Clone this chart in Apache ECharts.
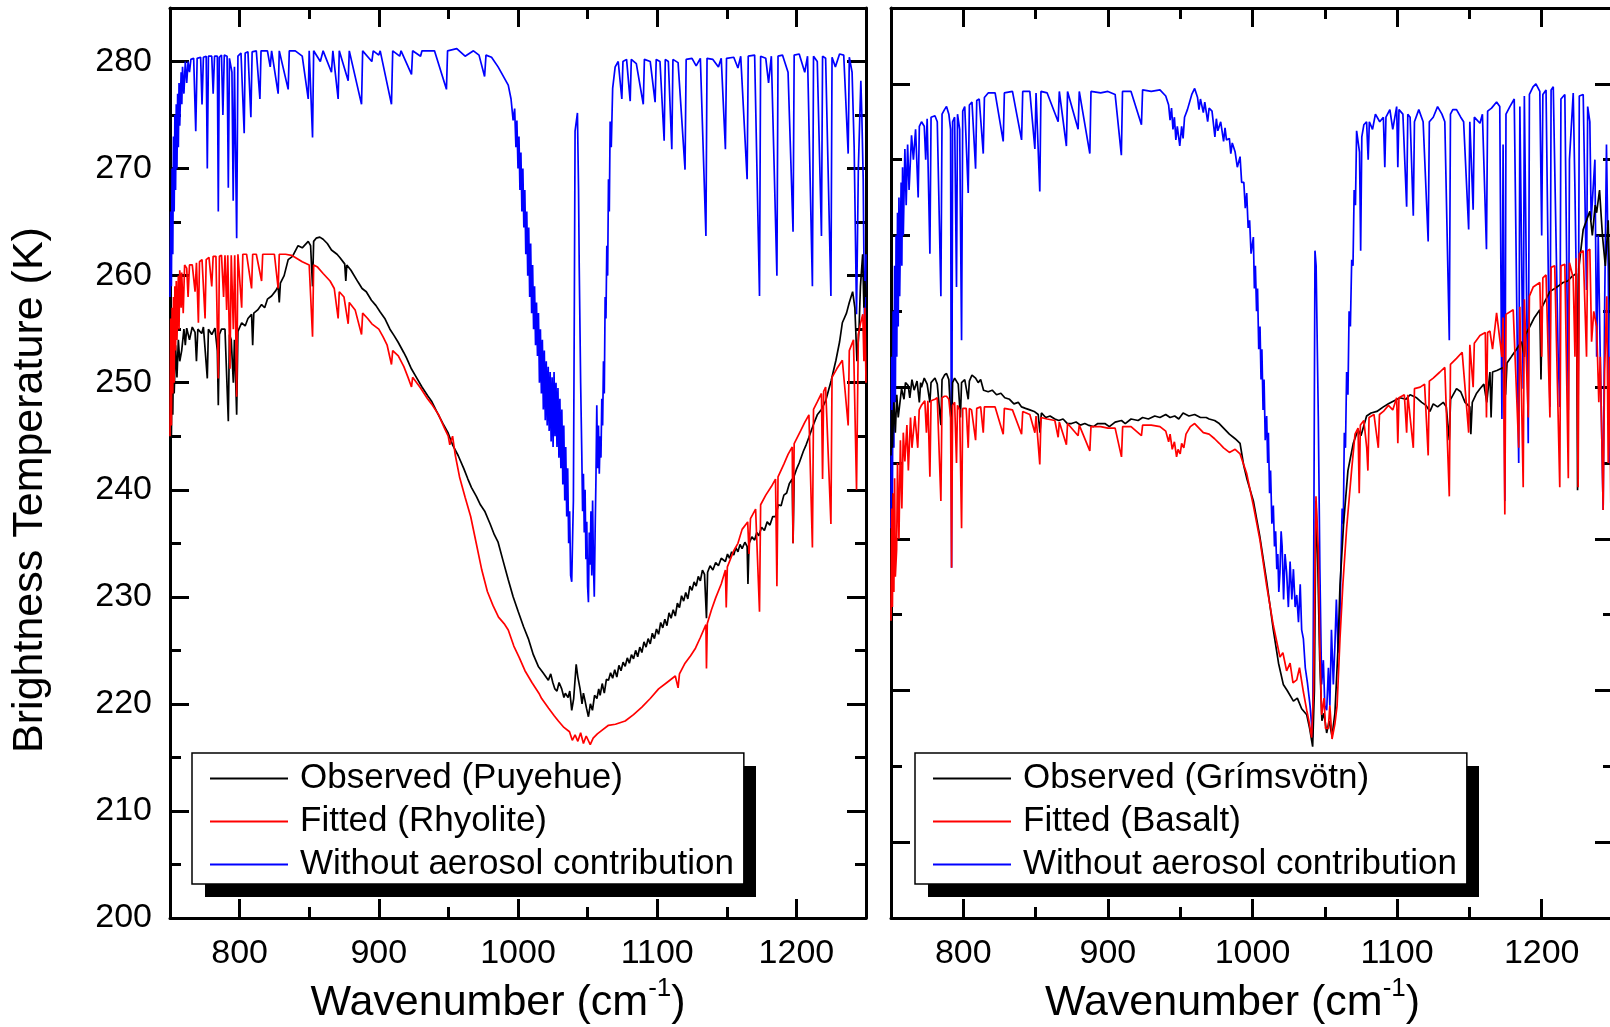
<!DOCTYPE html>
<html><head><meta charset="utf-8">
<script src="https://cdn.jsdelivr.net/npm/echarts@6/dist/echarts.min.js"></script>
<style>html,body{margin:0;padding:0;overflow:hidden;background:#fff}#c{width:1630px;height:1027px}</style>
</head><body><div id="c"></div><script>
// ---------- data (wavenumber cm-1, brightness temperature K) ----------
const LEFT_NAMES = ['Observed (Puyehue)', 'Fitted (Rhyolite)', 'Without aerosol contribution'];
const RIGHT_NAMES = ['Observed (Grímsvötn)', 'Fitted (Basalt)', 'Without aerosol contribution'];
const X_LABELS = [800, 900, 1000, 1100, 1200];
const X_MINOR = [850, 950, 1050, 1150];
const Y_LEFT_LABELS = [200, 210, 220, 230, 240, 250, 260, 270, 280];
const Y_LEFT_MINOR = [205, 215, 225, 235, 245, 255, 265, 275];
const Y_RIGHT_MAJOR = [230, 240, 250, 260, 270, 280];
const Y_RIGHT_MINOR = [235, 245, 255, 265, 275];

const leftClear = [[750,258],[750.5,266],[751,259],[751.5,270],[752,262],[752.5,273],[753,266],[753.5,275],[754,268],[754.5,276],[755,270],[755.5,277],[756,272],[756.5,278],[757,274],[758,279],[758.5,276],[759,279.5],[760,277],[761,280],[762,278],[763,280],[764,279],[765,280.2],
[767,280.3],[768.5,273.5],[769.5,280.3],[772,280.4],[773,276],[774,280.4],[776,280.5],[776.8,270],[777.6,280.5],[780,280.5],[781,277],[782,280.5],[784,280.5],[784.7,266],[785.4,280.4],[787,280.6],[788,275],[789,280.6],[791,280.5],[791.9,268.2],[792.7,280.3],[794.5,279],[795.4,267],[796.3,279.5],[797.9,263.5],[798.8,280.5],[801,280.8],[803.3,273.3],[804,280.8],[806,280.9],[808.1,274.8],[809,280.9],[812,281],[814.6,276.5],[815.4,281],[820,281],[822,279.5],[823,281],[827.7,277],[828.5,281],[834.9,277.4],[835.7,281],[840,281],[845,280.5],[849.3,276.5],[850,281],[852.4,272.9],[853.2,281],[858,280],[860,281],[866,279],[867,281],[870.8,276.5],[871.6,281],[878,278.2],[878.8,281],[887.6,276],[888.4,281],[895,280],[896,281],[900,280.6],[901,281],[909.1,276],[910,281],[915,280.5],[916,281],[923.5,278.8],[924.3,281],[930,280.5],[931,281],[940,281],[948.6,277.4],[949.4,281],[956,281.2],[962,280.5],[968,281],[972,280.6],[976,278.6],[977,280.6],[981,280.4],[985.7,279.5],[990,278.5],[993,277.8],[995,276.5],[996.5,274.5],[997.6,275.6],[998.5,272],[999.2,274.5],[1000,270],[1000.7,273],[1001.4,268],[1002.1,271.5],[1002.8,266],[1003.5,270],[1004.2,264.5],[1004.9,268],[1005.6,262],[1006.3,266],[1007,260],[1007.7,264.5],[1008.4,258],[1009.1,263],[1009.8,256.5],[1010.5,261],[1011.2,255],[1011.9,259],[1012.6,253.5],[1013.3,257.5],[1014,252.5],[1014.7,256.5],[1015.4,250],[1016.1,255],[1016.8,249],[1017.5,254],[1018.2,247.5],[1018.9,253],[1019.6,246.5],[1020.3,252],[1021,246],[1021.7,251.5],[1022.4,245.5],[1023.1,251],[1023.8,244.5],[1024.5,250.5],[1025.2,244],[1025.9,251],[1026.6,245],[1027.3,250],[1028,244],[1028.7,249.5],[1029.4,243],[1030.1,248.5],[1030.8,242],[1031.5,247.5],[1032.2,240.5],[1032.9,246],[1033.6,239],[1034.3,244],[1035,237.5],[1035.7,242],[1036.4,235],[1037.1,238],[1037.8,232],[1038.6,231.4],[1039.3,236],[1039.8,239],[1040.5,258],[1041,273.5],[1042.7,275.2],[1043.5,268],[1044,260.7],[1045,250],[1045.8,243.6],[1046.4,238],[1047,241.5],[1047.6,236],[1048.2,240],[1048.8,233.5],[1049.4,237],[1050,231],[1050.6,229.5],[1051.2,236],[1051.8,233],[1052.4,238],[1053,232],[1053.6,239],[1054.2,233],[1054.8,230],[1055.4,236],[1056,241],[1056.6,247.9],[1057.2,242],[1057.8,246],[1058.4,241.5],[1059,245],[1059.6,243],[1060.2,248.5],[1060.8,246],[1061.4,252],[1062,249],[1062.6,258],[1063.2,256],[1063.8,262.8],[1064.4,260],[1065,269],[1065.6,266],[1066.2,274.4],[1067,272],[1068,277.5],[1069.8,279.5],[1072,280],[1074.6,276.5],[1075.4,280],[1078,280.2],[1080.6,276.3],[1081.4,280.2],[1085,279.8],[1090,276],[1090.8,280.2],[1095,280],[1098.5,276.2],[1099.3,280.2],[1102,280],[1105,272.6],[1105.8,280.2],[1108,280],[1110.5,271.8],[1111.3,280.2],[1115,279.9],[1120,269.9],[1120.8,280.2],[1125,280.3],[1128,279.6],[1131,280.3],[1135,263.7],[1135.8,280.3],[1140,280.2],[1144,279.5],[1146,280.3],[1149,271.8],[1149.8,280.3],[1155,280.4],[1158,279.4],[1160,280.5],[1164.6,269],[1165.4,280.5],[1170,280.6],[1173.5,258.1],[1174.3,280.5],[1178,280.3],[1180,278],[1182,280.5],[1186,260],[1186.8,280.5],[1190,280.6],[1194,279],[1197.6,264.1],[1198.4,280.6],[1202,280.7],[1206,279],[1208,280.5],[1211.5,259],[1212.3,280.5],[1215,280],[1218,263.7],[1218.8,280.5],[1221,280.3],[1224.8,258.1],[1225.6,280.4],[1228,279.5],[1231,280.7],[1234,280.6],[1237.2,271.4],[1238,280.4],[1240,279],[1241.5,272],[1243.2,256.4],[1244.5,270],[1246.3,278.2],[1247,275],[1248,269],[1249,254],[1250,262]];

const leftFitted = [[750,245],[750.5,256],[751,246],[751.5,257],[752,249],[752.5,258],[753,250],[753.5,259],[754,253],[754.5,259.5],[755,254],[756,260],[756.5,255],[757,260.5],[758,257],[758.4,260.3],[759.5,256.5],[760.5,261],[762,260.7],[763,258],[764,261],[766,261],[768,258.5],[769,261.2],[770.4,255.6],[771.2,261.3],[773,261.5],[775.2,256],[776,261.5],[778,261.7],[780,259],[781,261.8],[783,261.8],[784.7,250.4],[785.5,261.8],[787,261.9],[788.5,258],[789.5,261.9],[790.7,256.8],[791.5,261.9],[793.1,251.3],[794,261.9],[795.5,255],[796.5,261.9],[797.9,248.7],[798.8,262],[801.5,257],[802.3,262],[805,262],[808.6,258.8],[809.4,262],[812,262],[815.8,259.5],[816.6,262],[820,262],[825,262],[827.7,258.8],[828.5,262],[833,262],[837.3,261.9],[840,261.7],[845,261.3],[850,261],[852.4,254.3],[853.2,261],[856,260.8],[860,260.2],[865,259.5],[868,258.8],[870.8,256],[871.6,258.5],[875,258],[878,255.5],[878.8,257.5],[883,256.8],[887.6,254.5],[888.4,256.5],[892,256],[895,255.5],[900,255],[903,254.3],[906,253.5],[909.1,251.7],[910,253],[914,252.5],[918,251.5],[921,250.5],[923.5,249.6],[924.3,250.5],[930,249.5],[935,248.5],[938,248],[943,247],[947,245.8],[949.9,245],[951,244.2],[953,245],[955,243.2],[958,241.2],[962,239.3],[966,237.5],[970,235],[974,232.5],[978,230.5],[982,229.2],[986,228.1],[990,227.5],[993,226.9],[997,225.4],[1001,224.3],[1005,223.1],[1010,222],[1015,221],[1017,220.5],[1022,219.6],[1026,218.9],[1029,218.4],[1033,217.8],[1037,217.4],[1039,216.6],[1041,217.1],[1043,216.5],[1045,217.3],[1047,216.3],[1049,217],[1051.9,216.2],[1054,216.8],[1057,217.2],[1060,217.5],[1065,218],[1070,218.1],[1077,218.4],[1083,219],[1089,219.7],[1095,220.5],[1101,221.4],[1107,222],[1110,222.3],[1113,222.6],[1115,221.5],[1116,222.8],[1120,223.8],[1124,224.5],[1127.5,225.2],[1131,226.2],[1135,227.4],[1135.4,223.3],[1136,227.5],[1139,228.8],[1142,229.9],[1146,231.2],[1149,232.5],[1149.6,229],[1150.4,232.8],[1155,234.3],[1158,235],[1161,236.3],[1165,237],[1166,234],[1167,237.3],[1170.7,238.2],[1173.5,228.6],[1174.3,238.6],[1178,239.5],[1182,240.3],[1185,241],[1186,231],[1186.8,241.2],[1191,242.4],[1194,243.3],[1197,244],[1197.6,235],[1198.4,244.3],[1203,245.5],[1206,246.3],[1209,247],[1211.5,234.6],[1212.3,247.5],[1215,248.2],[1218,249],[1218.8,241],[1219.6,249.2],[1221,249.6],[1224.8,236.8],[1225.6,250.5],[1229,251.3],[1233,252.1],[1237.2,246],[1238,253],[1241,254],[1243.2,240],[1244.5,254.5],[1246,255.5],[1247.7,256.4],[1248.5,252],[1249.2,257],[1250,250]];

const leftObserved = [[750,243.6],[750.5,250],[751,245],[751.5,252],[752,247],[752.5,253],[753,249],[754,253.5],[755,250.5],[756,254],[757,252],[758.4,253],[760,255],[761,253.5],[762,255.1],[764,254],[766,255.2],[768,254.7],[769,252],[770,255],[772.8,254.6],[774,255.2],[776.8,250.4],[777.6,255],[780,254.5],[782.3,255.1],[784,253],[784.7,247.9],[785.5,254.5],[787,255],[789.5,255],[791.9,246.4],[792.7,254.5],[794,254],[795.5,250],[796.3,254],[797.9,247],[798.8,254.8],[801.5,255.6],[804,255.3],[806,256],[808.6,256.4],[809.4,253.5],[810.2,256.5],[813,256.8],[815.8,257.3],[818,257],[820,257.8],[823,258.1],[826,258.6],[827.7,259],[828.5,257.5],[829.3,259.3],[832,260],[834.9,261.5],[838,261.8],[842,262.8],[845,262.6],[849.3,263.2],[851,262.8],[852.4,259],[853.2,263.2],[855,263.5],[857.6,263.6],[860,263.4],[863,263],[866,262.4],[870,262],[872,261.7],[875.5,261.1],[876.3,259.5],[877,261],[880,260.5],[885.1,259.4],[888,258.8],[891,258.5],[894.7,257.7],[898,257.2],[901,256.6],[904.3,256],[908,255],[911,254.4],[913.8,253.8],[918,252.8],[920,252.3],[923.4,251.3],[927,250.5],[931,249.6],[935,248.8],[937.8,248.3],[942,247.2],[946,246.2],[949.8,245.3],[953,244.2],[957,243.2],[961,242],[964,241],[966.6,240.2],[970,239.4],[973,238.6],[976.1,238],[980,236.8],[983,235.8],[985.7,235.1],[989,233.5],[993,231.6],[996.5,230],[1000.2,228.6],[1004,227.2],[1007.4,226.1],[1011,224.6],[1014.6,223.5],[1018,222.9],[1021.8,222.2],[1023.5,222.8],[1025,222],[1026.5,221.4],[1028,221.2],[1029.5,222],[1031.4,221.4],[1033,220.6],[1034,221],[1036,220.6],[1037.2,221.2],[1038.6,219.4],[1040,220.5],[1041.8,223.7],[1043,222.5],[1044.6,221.4],[1046,220],[1047,221],[1048,220.4],[1049.2,219.6],[1050.6,218.8],[1052,220],[1053.5,219.4],[1055,220.8],[1056.7,220.5],[1058,221.4],[1059,220.8],[1060.5,221.9],[1062,221],[1063.5,222.3],[1065,222.2],[1066.5,222.9],[1068,222.4],[1069.5,223.2],[1071,222.5],[1072.5,223.6],[1074,223.1],[1075.5,223.9],[1077,223.5],[1078.5,224.3],[1080,223.8],[1081.5,224.6],[1083,224.2],[1084.5,225],[1086,224.4],[1087.5,225.3],[1089,224.8],[1090.5,225.8],[1092,225.3],[1093.5,226.1],[1095,225.6],[1096.5,226.6],[1098,226.1],[1099.5,227],[1101,226.5],[1102.5,227.6],[1104,227.1],[1105.5,227.9],[1107,227.3],[1108.5,228.5],[1110,228],[1111.5,228.8],[1113,228.2],[1114.5,229.4],[1116,229],[1117.5,230.1],[1119,229.6],[1120.5,230.4],[1122,229.8],[1123.5,231],[1125,230.6],[1126.5,231.4],[1128,231],[1129.5,231.9],[1131,231.5],[1132.5,232.5],[1134,232.1],[1135.4,228],[1136.2,232.3],[1138,232.9],[1140,232.5],[1142,233.2],[1144,232.9],[1146,233.6],[1149,233.3],[1150.5,234],[1152,233.6],[1153.5,234.2],[1155,233.9],[1156.5,234.6],[1158,234.2],[1159.5,234.9],[1161,234.5],[1163,235.1],[1164.6,234.7],[1165.2,231.2],[1166,235],[1168,235.6],[1170,235.3],[1171.5,236],[1173,235.7],[1175,236.5],[1177,236.2],[1179,237],[1181,236.7],[1183,237.5],[1185,237.5],[1187,238.6],[1189,238.5],[1191,239.5],[1193,239.7],[1195,240.6],[1197,241],[1197.6,235],[1198.4,241.3],[1200,241.9],[1202,242.5],[1205,243.6],[1207,244.2],[1209,244.9],[1212,246],[1215,247],[1218,247.5],[1221,248.3],[1225,250.2],[1228.4,252.1],[1231,253.8],[1233,255.6],[1236,256.5],[1238,257.5],[1240.4,258.5],[1242,257],[1243.5,252],[1245,255],[1246,259],[1247.6,262],[1248.5,257],[1249.2,259.5],[1250,258]];

const rightClear = [[750,250.7],[750.5,262],[751,253],[751.5,265],[752,256],[752.5,268],[753,259],[753.5,270],[754,262],[754.5,271.5],[755,264],[755.5,272.5],[756,266],[757,273.5],[757.5,268],[758,274.5],[758.5,270],[759.6,275.7],[760.5,272],[761.5,276],[762.5,273],[764.2,276.6],[765.5,275],[767,277],[768.8,272.5],[769.6,277.2],[771.1,277.5],[773,277.2],[774,275],[775,277.7],[776.9,268.8],[777.7,277.8],[780.4,277.9],[782,277.5],[784.5,266],[785.3,278],[787,278.3],[788.4,278.5],[790,278],[791.2,277],[791.9,248.1],[792.6,277.5],[794,277.8],[795.3,266.6],[796,278],[797.5,277],[798.8,263.1],[799.6,278.2],[801,278.5],[803.4,272.8],[804.2,278.6],[806,278.8],[808.5,274.4],[809.3,278.9],[811,279],[813.8,275.4],[814.6,279.1],[817.2,279.4],[822,279.4],[827.6,276.2],[828.4,279.4],[834,279.5],[840.3,276.3],[841.1,279.5],[846,279.5],[849.5,275.7],[850.3,279.4],[852.9,272.9],[853.7,279.5],[858,279.4],[865.6,277.5],[866.4,279.5],[871.3,275.9],[872.1,279.5],[879.4,277],[880.2,279.5],[887.5,275.4],[888.3,279.5],[895,279.4],[900,279.5],[905,279.3],[909.3,275.3],[910.1,279.5],[916,279.5],[923.2,277.3],[924,279.6],[930,279.5],[936,279.6],[940,279.2],[942,278.6],[943,277.6],[944,278.4],[945,277],[946,277.8],[947,276.3],[948,277.2],[949.7,275.9],[951,277.2],[952,276.4],[953,277.8],[955,278.3],[958,279.3],[960,279.7],[962,279.1],[963,278.3],[964,279],[966,278.1],[967,278.8],[969,277.5],[970,278.4],[972,278.2],[974,276.5],[975,277.7],[976,276.9],[978,277.5],[980,276.2],[981,277.1],[982,276.3],[984,276.4],[985,275.4],[986,276.1],[988,275.5],[989.5,274.5],[991.4,275.2],[992.5,273.5],[994,273.5],[995,271.8],[996,272.8],[997,270.5],[998,271],[999,268.8],[1000.6,269.9],[1001.3,266.5],[1002,268],[1002.8,265],[1003.5,266.5],[1004.3,262.5],[1005.2,264],[1005.9,260.5],[1006.5,262.5],[1007.3,258.5],[1008,260.5],[1008.8,256.5],[1009.8,258.1],[1010.5,255],[1011,257],[1011.8,253],[1012.5,254.5],[1013.4,251],[1014.4,252.2],[1015.2,249.5],[1016,250.5],[1016.8,248],[1017.5,249],[1018.2,246.5],[1019,247.8],[1019.8,250.5],[1020.5,249.5],[1021.5,246],[1022.5,249],[1023.6,247.8],[1024.8,245.5],[1026,248.5],[1027.2,246],[1028.3,248],[1029.5,245.5],[1030.6,246.3],[1031.8,244.5],[1033,247],[1034,244],[1035.2,243.4],[1036.5,241.5],[1038,240.5],[1039.8,239],[1041.6,236.9],[1042.4,250],[1043.2,269],[1044,268],[1045.5,258.1],[1046.6,248],[1047.8,240.4],[1049,242],[1050,239],[1051.3,238.7],[1052.5,241.5],[1053.5,239],[1054.6,244],[1055.9,240.4],[1057,243],[1058,246],[1059.2,242.5],[1060.5,244.9],[1061.3,249],[1062,252],[1062.8,251],[1063.5,257],[1064.3,256],[1065.1,261],[1066,259.5],[1066.8,265],[1067.7,264],[1068.6,268.4],[1069.5,268],[1070.3,273],[1071.2,272],[1072,276.9],[1074,275.5],[1074.8,269],[1075.6,276.5],[1077,277.3],[1078.9,277.5],[1080,275],[1080.8,277.5],[1083,277],[1085,278],[1088,277.5],[1090.5,277.8],[1091.5,274.5],[1092.3,277.8],[1095,278.3],[1097,277],[1099.7,278.5],[1100.5,274.5],[1101.3,278.3],[1104,278],[1106.6,271.9],[1107.4,278],[1109,277.8],[1111.2,271.3],[1112,277.5],[1115,278.3],[1118,277.5],[1121.5,269.6],[1122.3,277.5],[1125,277.8],[1128,278.5],[1131,278],[1133,277.5],[1136.1,263.1],[1136.9,278],[1138.5,278.3],[1141.1,278.3],[1144,277.8],[1146,277.5],[1149.5,270.4],[1150.3,277.5],[1152.6,271.7],[1153.4,277.8],[1157.3,277.4],[1159,278],[1161.8,269.1],[1162.6,278.2],[1165.3,278.4],[1168.8,278.8],[1171,278.5],[1172.5,257.9],[1173.3,276],[1174.5,252.5],[1175.3,278],[1178,278.5],[1181,279],[1184.1,255],[1184.9,278.5],[1187.2,259.9],[1188,279.2],[1190.7,256.3],[1191.5,279.3],[1194,279.8],[1196,280],[1198.7,279.5],[1200,270],[1200.8,279.3],[1203,279.6],[1205.7,258.7],[1206.5,279.6],[1208,279.8],[1211.4,262],[1212.5,258.7],[1213.3,279],[1216,279.3],[1218.4,258.5],[1219.2,275],[1221.8,279.4],[1223,273],[1225.2,258.7],[1226,279.2],[1228.7,279.3],[1231,266.4],[1231.8,278.5],[1233.3,277.5],[1234.2,271],[1236.8,275],[1238,262],[1239.1,270],[1240.5,262],[1242.5,251.9],[1243.5,265],[1244.8,276],[1246,268],[1247,255],[1248,262],[1250,258]];

const rightFitted = [[750,244.6],[750.5,252],[751,245.5],[751.5,253],[752,246.5],[752.5,254],[753,247.5],[753.9,249.3],[754.5,255],[755.5,250],[756.5,256.5],[757.5,252],[758.5,257],[759.6,255.1],[761,257.5],[762,254.5],[763.5,258],[764.5,256],[766.5,258.1],[768.5,256],[769.5,258.5],[771,258.8],[773.4,259.1],[774.5,257],[775.5,259.1],[776.9,254.1],[777.7,259.1],[780.4,259.2],[782,259.3],[784.5,252.5],[785.3,259.3],[787,259.4],[788.4,259.4],[790,259.2],[791.2,258],[791.9,248.1],[792.6,258.8],[794,259],[795.3,255],[796,258.8],[797.5,258.5],[798.8,250.7],[799.6,258.6],[802,258.6],[803.4,256],[804.2,258.6],[805.7,258.5],[808.5,256.5],[809.3,258.6],[812,258.7],[813.8,257],[814.6,258.7],[817.2,258.7],[822,258.7],[827.6,256.9],[828.4,258.6],[834,258.5],[840.3,256.9],[841.1,258.4],[846,258.2],[849.5,257],[850.3,258.1],[852.9,254.9],[853.7,258],[858,257.9],[863.3,257.8],[865.6,256.7],[866.4,257.7],[871.3,256.2],[872.1,257.6],[879.4,256.8],[880.2,257.5],[887.5,255.8],[888.3,257.4],[895,257.4],[900,257.3],[905,257.3],[909.4,255.4],[910.2,257.4],[916,257.4],[923.2,256.8],[924,257.5],[930,257.5],[936,257.4],[940,257.1],[942,256.4],[943,256.9],[944.5,255.9],[946,256.4],[947.5,255.4],[948.5,255.9],[950,255.6],[951,256.3],[952.5,256],[954,256.9],[957,257.4],[960,257.6],[963,257.3],[966,257],[970,256.9],[973.8,256.6],[977,256.3],[980,256],[984,255.7],[988,255.9],[991.4,255.6],[996,254.3],[1000.6,252.2],[1005.2,249.9],[1009.8,246.9],[1014.4,244.3],[1019,242.2],[1021,242.5],[1023.6,241.3],[1026,241.8],[1028,240.5],[1030.6,240.7],[1032.5,241.5],[1035.2,239.9],[1037.5,238.7],[1039,238],[1040.9,236.9],[1042.2,240],[1043.9,252.8],[1045.5,249.3],[1046.5,243],[1047.8,238.4],[1049.5,239.5],[1050.5,237.5],[1052.4,237.5],[1053.5,239],[1055,236.8],[1057,237.8],[1058.5,239],[1060.5,243.4],[1062.5,247],[1065.1,250.7],[1068.6,254.6],[1070.9,256.9],[1073,257.3],[1073.8,253],[1074.6,257.5],[1077,257.8],[1079,256],[1079.8,254.5],[1080.6,258],[1081.2,258.1],[1084,258.2],[1087,256],[1087.8,258.2],[1090.5,258.4],[1094,258.8],[1097,258.5],[1099.7,259.3],[1100.5,256.3],[1101.3,259.3],[1105,259.5],[1106.6,257],[1107.4,259.5],[1111.2,256],[1112,259.9],[1116,260],[1119,260.2],[1121.5,255.5],[1122.3,260.4],[1125,260.6],[1129.6,261],[1133,261.3],[1136.1,252.8],[1136.9,261.5],[1141.1,261.9],[1145,262.3],[1149.5,257],[1150.3,262.8],[1152.6,260],[1153.4,262.9],[1157.3,263.4],[1161,263.6],[1161.8,258],[1162.6,263.6],[1164.2,263.7],[1166,262.5],[1168.8,264.9],[1172.5,262],[1173.3,264.6],[1174.5,251.6],[1175.3,264.8],[1180.3,265.1],[1184.1,256],[1184.9,265.3],[1187.2,253.4],[1188,265.8],[1190.7,258],[1191.5,266],[1194.1,266.6],[1198.7,266.9],[1200,262],[1200.8,267.2],[1203,267.4],[1205.7,258],[1206.5,267.9],[1209,268],[1212.5,253.4],[1213.3,268],[1216,268.1],[1218.4,254],[1219.2,268.2],[1221.8,267.2],[1223,262],[1223.8,268.5],[1225.2,253.4],[1226,268.8],[1228.7,269],[1231,262],[1231.8,269],[1233.3,269.1],[1234.5,263],[1236,265],[1238,264],[1239.5,259],[1240.5,262],[1242.5,251.9],[1243.5,261],[1245,266],[1246,255],[1247,262],[1248,250],[1250,256]];

const rightObserved = [[750,255.5],[750.5,258.5],[751,256],[752,259],[753,257],[754,259.5],[755,258],[757.3,259.9],[759,259.2],[760,260.3],[761.9,260.1],[763,259.3],[764.5,260.5],[766,259.8],[768,260.4],[769.6,259],[770.5,260.3],[771.1,260],[773,260.6],[775,260.2],[776.9,259],[777.7,260.3],[780.4,260.6],[782,260.2],[784.5,257.5],[785.3,260.5],[787,260.8],[788.4,260.9],[790,260.5],[791.9,257],[792.6,260.3],[794,260.6],[796.5,260.2],[798,258],[798.8,260.3],[801,260.5],[803.4,259.2],[804.2,260.4],[806,260.8],[808.5,260.6],[810.3,260.3],[812,260.5],[814,259.8],[817.2,259.7],[820,259.8],[823,259.5],[826,259.6],[828.7,259.3],[832,259.2],[835,258.9],[838,259],[840.3,258.7],[843,258.6],[846,258.5],[849,258.4],[851.8,258.2],[853,257],[854,258.3],[857,258],[860,258.1],[863.3,257.9],[866,257.8],[869,257.9],[872,257.6],[874.8,257.6],[878,257.7],[881,257.5],[884,257.6],[886.3,257.5],[890,257.4],[893,257.6],[897.9,257.6],[901,257.4],[905,257.7],[909.4,257.8],[912,257.6],[916,257.9],[920.9,257.8],[924,258],[928,257.9],[932.4,258.1],[936,258],[940,258.2],[943,258],[946.2,258.1],[949,257.9],[952,258.3],[956,258.1],[960,258.2],[964,258],[968,258],[970,257.9],[973.8,257.8],[977,257.6],[980,257.3],[984,256.9],[988,256.6],[991.4,256.3],[994,254.8],[996,254],[1000.6,252.5],[1005,250.2],[1009.8,247.2],[1014.4,244],[1018,241.8],[1021.3,240.4],[1024,240],[1028.3,239.3],[1031,239.5],[1034,238.8],[1037.5,238.4],[1039.5,237.5],[1041.6,236.3],[1042.8,240],[1043.9,252.5],[1045,249],[1046.5,242],[1048,238],[1049.5,238.5],[1051.3,237.2],[1053,238],[1055,237],[1057,238.5],[1059,242.5],[1060.5,246.9],[1063,251],[1066,254.5],[1069.7,256.3],[1073,257.2],[1075,256.8],[1078.9,258.1],[1082,258.3],[1086,258.4],[1090.5,258.7],[1094,258.9],[1098,259.1],[1102,259.3],[1106,259.2],[1109,259.5],[1113.5,259.3],[1117,259],[1120,258.8],[1122.7,258.4],[1125,258.9],[1128,258.7],[1131.9,259],[1134,258.7],[1136.1,256.5],[1137,259.2],[1141.1,259.9],[1144,259.7],[1147,259],[1150.3,258.7],[1151,256.9],[1152,259],[1155,259.6],[1157.3,259.9],[1160,260.2],[1162,259],[1164.2,261],[1165,258],[1166,261],[1169,261.1],[1173.4,261.3],[1175,259.5],[1176,261.6],[1179,262],[1182.6,262.5],[1186,263],[1188,262],[1189,263.5],[1191.8,264],[1195,264.6],[1198.7,265.1],[1199.5,260.5],[1200.3,265.3],[1203,265.8],[1205.6,266.3],[1209,266.5],[1212,266.7],[1214.8,266.9],[1218,267],[1221,267.3],[1224,267.5],[1224.8,253.2],[1225.6,267.8],[1228.7,270.4],[1231,271],[1233.3,271.6],[1235,270],[1237,272],[1238,271.5],[1240,273],[1242,270],[1244,268],[1246,271],[1248,262],[1250,266]];

// ---------- styling ----------
const FONT = "'Liberation Sans', Arial, Helvetica, sans-serif";
const INK = '#000';
const AXLINE = { color: INK, width: 3 };
const plain = v => String(v);

function xAxisDef(grid, pos, ticks, len, showLine, labels, withName) {
  const a = {
    type: 'value', gridIndex: grid, position: pos, min: 750, max: 1250,
    axisLine: { show: showLine, onZero: false, lineStyle: AXLINE },
    axisTick: { show: true, inside: true, length: len, customValues: ticks, lineStyle: { color: INK, width: 3 } },
    axisLabel: labels ? { show: true, customValues: labels, formatter: plain, fontSize: 34, fontFamily: FONT, color: INK, margin: 19 } : { show: false },
    splitLine: { show: false }
  };
  if (withName) {
    a.name = '{a|Wavenumber (cm}{b|-1}{a|)}';
    a.nameLocation = 'middle';
    a.nameGap = 56;
    a.nameTextStyle = {
      padding: [0, 40, 0, 0],
      rich: {
        a: { fontSize: 43, fontFamily: FONT, color: INK, lineHeight: 55 },
        b: { fontSize: 26, fontFamily: FONT, color: INK, lineHeight: 24, verticalAlign: 'top' }
      }
    };
  }
  return a;
}
function yAxisDef(grid, pos, min, ticks, len, showLine, labels, withName) {
  const a = {
    type: 'value', gridIndex: grid, position: pos, min: min, max: 285,
    axisLine: { show: showLine, onZero: false, lineStyle: AXLINE },
    axisTick: { show: true, inside: true, length: len, customValues: ticks, lineStyle: { color: INK, width: 3 } },
    axisLabel: labels ? { show: true, customValues: labels, formatter: plain, fontSize: 34, fontFamily: FONT, color: INK, margin: 18 } : { show: false },
    splitLine: { show: false }
  };
  if (withName) {
    a.name = 'Brightness Temperature (K)';
    a.nameLocation = 'middle';
    a.nameGap = 118;
    a.nameTextStyle = { fontSize: 43, fontFamily: FONT, color: INK, padding: [0, 54, 0, 0] };
  }
  return a;
}

const MAJ = 19, MIN = 11;
const xAxes = [
  xAxisDef(0, 'bottom', X_LABELS, MAJ, true, X_LABELS, true),
  xAxisDef(0, 'bottom', X_MINOR, MIN, false, null, false),
  xAxisDef(0, 'top', X_LABELS, MAJ, true, null, false),
  xAxisDef(0, 'top', X_MINOR, MIN, false, null, false),
  xAxisDef(1, 'bottom', X_LABELS, MAJ, true, X_LABELS, true),
  xAxisDef(1, 'bottom', X_MINOR, MIN, false, null, false),
  xAxisDef(1, 'top', X_LABELS, MAJ, true, null, false),
  xAxisDef(1, 'top', X_MINOR, MIN, false, null, false)
];
const yAxes = [
  yAxisDef(0, 'left', 200, Y_LEFT_LABELS, MAJ, true, Y_LEFT_LABELS, true),
  yAxisDef(0, 'left', 200, Y_LEFT_MINOR, MIN, false, null, false),
  yAxisDef(0, 'right', 200, Y_LEFT_LABELS, MAJ, true, null, false),
  yAxisDef(0, 'right', 200, Y_LEFT_MINOR, MIN, false, null, false),
  yAxisDef(1, 'left', 225, Y_RIGHT_MAJOR, MAJ, true, null, false),
  yAxisDef(1, 'left', 225, Y_RIGHT_MINOR, MIN, false, null, false),
  yAxisDef(1, 'right', 225, Y_RIGHT_MAJOR, MAJ, true, null, false),
  yAxisDef(1, 'right', 225, Y_RIGHT_MINOR, MIN, false, null, false)
];

function lineSeries(name, data, color, grid) {
  return {
    type: 'line', name: name, data: data,
    xAxisIndex: grid * 4, yAxisIndex: grid * 4,
    showSymbol: false, symbol: 'none', animation: false, silent: true,
    lineStyle: { color: color, width: 1.7 }, itemStyle: { color: color },
    clip: true
  };
}

function legendDef(left, names) {
  return {
    left: left, top: 753, orient: 'vertical', selectedMode: false,
    data: names, icon: 'rect', itemWidth: 78, itemHeight: 2, itemGap: 8,
    itemStyle: { borderWidth: 0 },
    padding: [8, 10, 2, 18], z: 5,
    backgroundColor: '#fff', borderColor: INK, borderWidth: 1.5,
    textStyle: { fontSize: 35, fontFamily: FONT, color: INK, lineHeight: 35, padding: [0, 0, 0, 7] }
  };
}

const option = {
  backgroundColor: '#fff',
  animation: false,
  grid: [
    { left: 170, top: 8, width: 696, height: 910, containLabel: false, outerBoundsMode: 'none' },
    { left: 891, top: 8, width: 723, height: 910, containLabel: false, outerBoundsMode: 'none' }
  ],
  xAxis: xAxes,
  yAxis: yAxes,
  legend: [legendDef(192, LEFT_NAMES), legendDef(915, RIGHT_NAMES)],
  graphic: [
    { type: 'rect', z: 4, silent: true, shape: { x: 205, y: 766, width: 551, height: 131 }, style: { fill: INK } },
    { type: 'rect', z: 4, silent: true, shape: { x: 928, y: 766, width: 551, height: 131 }, style: { fill: INK } }
  ],
  series: [
    lineSeries(LEFT_NAMES[2], leftClear, '#0000ff', 0),
    lineSeries(LEFT_NAMES[0], leftObserved, '#000000', 0),
    lineSeries(LEFT_NAMES[1], leftFitted, '#ff0000', 0),
    lineSeries(RIGHT_NAMES[2], rightClear, '#0000ff', 1),
    lineSeries(RIGHT_NAMES[0], rightObserved, '#000000', 1),
    lineSeries(RIGHT_NAMES[1], rightFitted, '#ff0000', 1)
  ]
};
const chart = echarts.init(document.getElementById('c'), null, { renderer: 'canvas', devicePixelRatio: 1 });
chart.setOption(option);
</script></body></html>
